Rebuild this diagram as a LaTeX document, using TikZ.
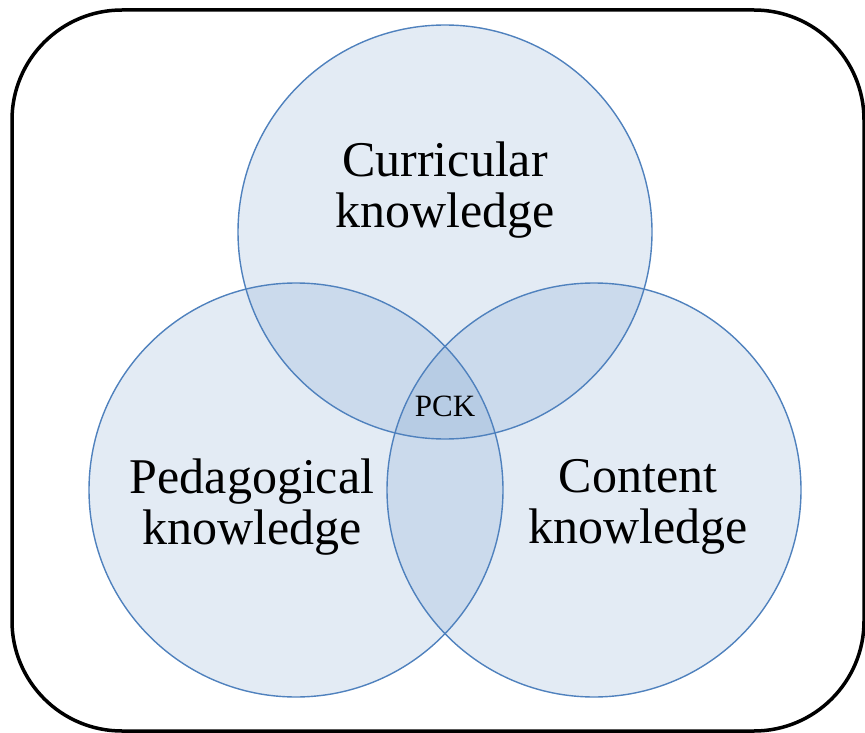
\documentclass[tikz,border=0pt]{standalone}
\usepackage{fontspec}
\setmainfont{Liberation Serif}
\definecolor{vennblue}{RGB}{79,129,189}
\tikzset{
  venn/.style={circle, draw=vennblue, line width=1.4pt, fill=vennblue, fill opacity=0.16, minimum size=414pt, inner sep=0pt},
  biglabel/.style={align=center, font=\fontsize{50}{51}\selectfont},
}
\begin{document}
\begin{tikzpicture}[x=1pt,y=-1pt]
\useasboundingbox (0,0) rectangle (865,733);
\draw [line width=3.5pt, rounded corners=110pt] (12,10) rectangle (864,731);
\node [venn] (curricular) at (445,232) {};
\node [venn] (pedagogical) at (296,490) {};
\node [venn] (content) at (594,490) {};
\node [biglabel] (curlabel) at (445,190) {Curricular\\knowledge};
\node [biglabel] (pedlabel) at (252,507) {Pedagogical\\knowledge};
\node [biglabel] (conlabel) at (638,507) {Content\\knowledge};
\node [font=\fontsize{31}{33}\selectfont] (pck) at (445,406.5) {PCK};
\end{tikzpicture}
\end{document}
